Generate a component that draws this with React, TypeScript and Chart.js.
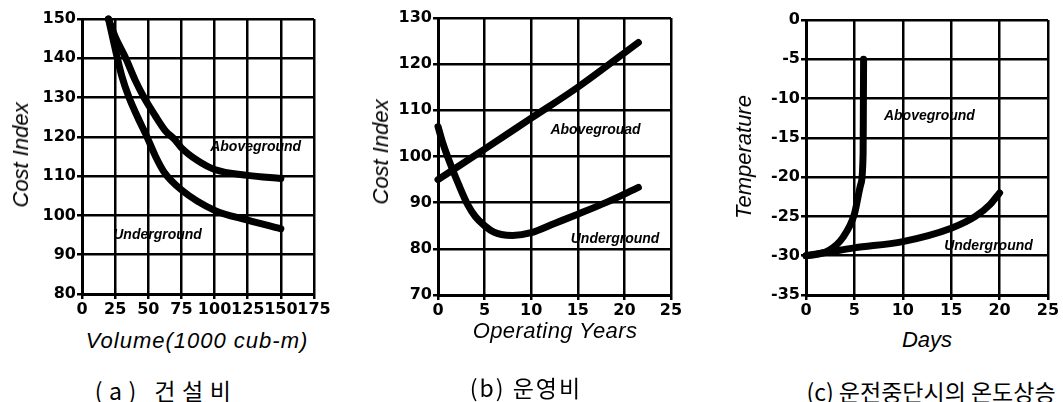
import React, { useEffect, useRef } from "react";
import { Chart, registerables } from "chart.js";

Chart.register(...registerables);

// ---------- Panel (a) 건설비 ----------
const volumeTicks = [0, 25, 50, 75, 100, 125, 150, 175];
const costTicksA = [80, 90, 100, 110, 120, 130, 140, 150];
const volAboveX = [20, 25, 33, 40, 46.8, 55, 63, 70, 75, 87, 100, 125, 150];
const volAboveY = [150, 145.5, 140, 134.5, 130, 125.5, 121.5, 119.3, 117.2, 114, 111.7, 110.2, 109.4];
const volUnderX = [20, 26.7, 30, 35.5, 42, 49, 55.5, 62, 75, 100, 125, 150];
const volUnderY = [150, 140, 135.5, 130, 125, 120, 115, 111, 106.5, 101.3, 98.8, 96.6];
const labelTextA = ["Aboveground", "Underground"];
const labelXA = [131, 57];
const labelYA = [117.5, 95];

// ---------- Panel (b) 운영비 ----------
const yearTicks = [0, 5, 10, 15, 20, 25];
const costTicksB = [70, 80, 90, 100, 110, 120, 130];
const yrAboveX = [0, 5, 10, 15, 21.5];
const yrAboveY = [95, 101.6, 108.3, 115, 124.7];
const yrUnderX = [0, 0.5, 1.4, 2.2, 3.2, 4, 5, 6, 6.8, 8, 10, 12.5, 15, 18, 21.5];
const yrUnderY = [106.5, 103, 98, 94, 89.5, 87, 85, 83.6, 83.1, 82.9, 83.5, 85.5, 87.5, 90, 93.3];
const labelTextB = ["Abovegrouad", "Underground"];
const labelXB = [16.9, 19];
const labelYB = [105.7, 82.1];

// ---------- Panel (c) 운전중단시의 온도상승 ----------
const dayTicks = [0, 5, 10, 15, 20, 25];
const tempTicks = [-35, -30, -25, -20, -15, -10, -5, 0];
const dayAboveX = [0, 1.2, 2.4, 3.8, 5, 5.66, 5.9, 5.93, 5.95];
const dayAboveY = [-30, -29.8, -29.3, -27.7, -24.7, -20.9, -17, -10, -5];
const dayUnderX = [0, 2.5, 5, 10, 15, 17.5, 19, 20];
const dayUnderY = [-30, -29.5, -29, -28.2, -26.5, -25, -23.5, -22];
const labelTextC = ["Aboveground", "Underground"];
const labelXC = [12.75, 18.85];
const labelYC = [-12.2, -28.8];

const curveLabelPlugin = {
  id: "curveLabels",
  afterDatasetsDraw(chart: any, _args: any, opts: any) {
    const { ctx } = chart;
    const xs = chart.scales.x;
    const ys = chart.scales.y;
    ctx.save();
    ctx.font = 'italic bold 14px "Liberation Sans", Arial, sans-serif';
    ctx.fillStyle = "#000";
    ctx.textAlign = "center";
    ctx.textBaseline = "middle";
    const t: string[] = opts.text || [];
    t.forEach((s, i) => {
      ctx.fillText(s, xs.getPixelForValue(opts.x[i]), ys.getPixelForValue(opts.y[i]));
    });
    ctx.restore();
  },
};

type Series = { x: number[]; y: number[] };
type PanelProps = {
  left: number;
  width: number;
  height: number;
  plotLeft: number;
  plotRight: number;
  plotTop: number;
  plotBottom: number;
  xTicks: number[];
  yTicks: number[];
  series: Series[];
  labelText: string[];
  labelX: number[];
  labelY: number[];
};

function Panel(p: PanelProps) {
  const ref = useRef<HTMLCanvasElement | null>(null);
  useEffect(() => {
    if (!ref.current) return;
    const tickFont = { family: '"DejaVu Sans", sans-serif', weight: "bold" as const, size: 16 };
    const grid = { color: "#000", lineWidth: 2.5, tickLength: 5, tickWidth: 2.5 };
    const border = { color: "#000", width: 3 };
    const chart = new Chart(ref.current, {
      type: "scatter",
      data: {
        datasets: p.series.map((s) => ({
          data: s.x.map((x, i) => ({ x, y: s.y[i] })),
          showLine: true,
          borderColor: "#000",
          backgroundColor: "#000",
          borderWidth: 7,
          pointRadius: 0,
          cubicInterpolationMode: "monotone" as const,
          borderCapStyle: "round" as const,
          borderJoinStyle: "round" as const,
          clip: 10,
        })),
      },
      options: {
        animation: false,
        responsive: false,
        events: [],
        layout: {
          padding: {
            left: 0,
            top: p.plotTop,
            right: p.left + p.width - p.plotRight,
            bottom: 0,
          },
        },
        plugins: {
          legend: { display: false },
          tooltip: { enabled: false },
          curveLabels: { text: p.labelText, x: p.labelX, y: p.labelY },
        } as any,
        scales: {
          x: {
            type: "linear",
            min: p.xTicks[0],
            max: p.xTicks[p.xTicks.length - 1],
            afterBuildTicks: (s: any) => {
              s.ticks = p.xTicks.map((v) => ({ value: v }));
            },
            afterFit: (s: any) => {
              s.height = p.height - p.plotBottom;
            },
            grid,
            border,
            ticks: {
              color: "#000",
              font: tickFont,
              padding: 1,
              maxRotation: 0,
              minRotation: 0,
              autoSkip: false,
            },
          },
          y: {
            type: "linear",
            min: p.yTicks[0],
            max: p.yTicks[p.yTicks.length - 1],
            afterBuildTicks: (s: any) => {
              s.ticks = p.yTicks.map((v) => ({ value: v }));
            },
            afterFit: (s: any) => {
              s.width = p.plotLeft - p.left;
            },
            grid,
            border,
            ticks: {
              color: "#000",
              font: tickFont,
              padding: 1,
              autoSkip: false,
            },
          },
        },
      },
      plugins: [curveLabelPlugin],
    });
    return () => chart.destroy();
  }, []);
  return (
    <canvas
      ref={ref}
      width={p.width}
      height={p.height}
      style={{ position: "absolute", left: p.left, top: 0, width: p.width, height: p.height }}
    />
  );
}

function Txt(props: {
  x: number;
  y: number;
  text: string;
  size: number;
  family: string;
  italic?: boolean;
  bold?: boolean;
  rotate?: boolean;
  spacing?: number;
}) {
  return (
    <div
      style={{
        position: "absolute",
        left: props.x,
        top: props.y,
        transform: `translate(-50%, -50%)${props.rotate ? " rotate(-90deg)" : ""}`,
        whiteSpace: "nowrap",
        fontFamily: props.family,
        fontSize: props.size,
        fontStyle: props.italic ? "italic" : "normal",
        fontWeight: props.bold ? "bold" : "normal",
        letterSpacing: props.spacing ? `${props.spacing}px` : undefined,
        lineHeight: 1,
        color: "#000",
      }}
    >
      {props.text}
    </div>
  );
}

const SANS = '"Liberation Sans", Arial, sans-serif';
const KR = '"Noto Sans CJK KR", sans-serif';

export default function App() {
  return (
    <div
      style={{
        position: "absolute",
        left: 0,
        top: 0,
        width: 1063,
        height: 402,
        background: "#fff",
        overflow: "hidden",
      }}
    >
      <Panel
        left={0}
        width={345}
        height={320}
        plotLeft={82}
        plotRight={314}
        plotTop={19}
        plotBottom={294}
        xTicks={volumeTicks}
        yTicks={costTicksA}
        series={[
          { x: volAboveX, y: volAboveY },
          { x: volUnderX, y: volUnderY },
        ]}
        labelText={labelTextA}
        labelX={labelXA}
        labelY={labelYA}
      />
      <Panel
        left={345}
        width={345}
        height={320}
        plotLeft={438}
        plotRight={671}
        plotTop={18}
        plotBottom={295}
        xTicks={yearTicks}
        yTicks={costTicksB}
        series={[
          { x: yrAboveX, y: yrAboveY },
          { x: yrUnderX, y: yrUnderY },
        ]}
        labelText={labelTextB}
        labelX={labelXB}
        labelY={labelYB}
      />
      <Panel
        left={690}
        width={373}
        height={320}
        plotLeft={806}
        plotRight={1048}
        plotTop={20}
        plotBottom={295}
        xTicks={dayTicks}
        yTicks={tempTicks}
        series={[
          { x: dayAboveX, y: dayAboveY },
          { x: dayUnderX, y: dayUnderY },
        ]}
        labelText={labelTextC}
        labelX={labelXC}
        labelY={labelYC}
      />

      <Txt x={21} y={155} text="Cost Index" size={22} family={SANS} italic rotate />
      <Txt x={381} y={152} text="Cost Index" size={22} family={SANS} italic rotate />
      <Txt x={744} y={157} text="Temperature" size={22} family={SANS} italic rotate />

      <Txt x={197} y={341} text="Volume(1000 cub-m)" size={22} family={SANS} italic spacing={1} />
      <Txt x={555} y={331} text="Operating Years" size={22} family={SANS} italic spacing={0.4} />
      <Txt x={927} y={340} text="Days" size={22} family={SANS} italic />

      <Txt x={166} y={390} text="(a) 건설비" size={23} family={KR} spacing={6.5} />
      <Txt x={526} y={387} text="(b) 운영비" size={23} family={KR} spacing={2} />
      <Txt x={931} y={391} text="(c) 운전중단시의 온도상승" size={23} family={KR} />
    </div>
  );
}
